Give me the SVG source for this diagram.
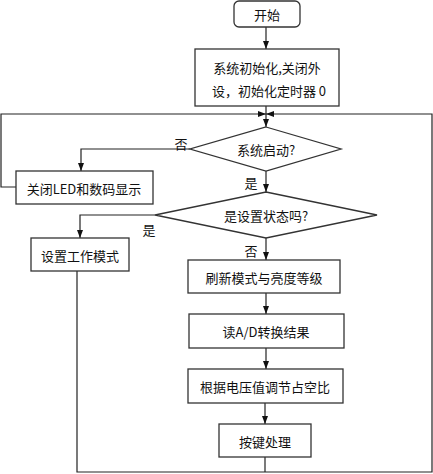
<svg xmlns="http://www.w3.org/2000/svg" width="433" height="474" viewBox="0 0 433 474">
<style>
.box{fill:#fff;stroke:#333;stroke-width:1.3}
.ln{fill:none;stroke:#222;stroke-width:1.2}
.t{font-family:"Noto Sans CJK SC","Noto Sans",sans-serif;font-size:13px;fill:#111;text-anchor:middle;dominant-baseline:central}
</style>
<defs>
<marker id="ah" viewBox="0 0 8 6" refX="8" refY="3" markerWidth="8" markerHeight="6" markerUnits="userSpaceOnUse" orient="auto">
<path d="M0,0 L8,3 L0,6 Z" fill="#111"/>
</marker>
</defs>
<rect width="433" height="474" fill="#fff"/>
<g id="connectors">
<line class="ln" x1="266" y1="27" x2="266" y2="49" marker-end="url(#ah)"/>
<line class="ln" x1="266" y1="106" x2="266" y2="127" marker-end="url(#ah)"/>
<polyline class="ln" points="16,187 1,187 1,114 266,114" marker-end="url(#ah)"/>
<polyline class="ln" points="266,472 432,472 432,114 266,114" marker-end="url(#ah)"/>
<polyline class="ln" points="190,149 81,149 81,171" marker-end="url(#ah)"/>
<line class="ln" x1="266" y1="171" x2="266" y2="192" marker-end="url(#ah)"/>
<polyline class="ln" points="155,215 80,215 80,238" marker-end="url(#ah)"/>
<line class="ln" x1="266" y1="238" x2="266" y2="260" marker-end="url(#ah)"/>
<polyline class="ln" points="77,271 77,472 266,472"/>
<line class="ln" x1="266" y1="293" x2="266" y2="314" marker-end="url(#ah)"/>
<line class="ln" x1="266" y1="348" x2="266" y2="369" marker-end="url(#ah)"/>
<line class="ln" x1="265" y1="403" x2="265" y2="424" marker-end="url(#ah)"/>
<line class="ln" x1="265" y1="457" x2="265" y2="472"/>
<text class="t" x="181" y="143">否</text>
<text class="t" x="251" y="182">是</text>
<text class="t" x="149" y="229">是</text>
<text class="t" x="251" y="250">否</text>
</g>
<g id="start"><rect class="box" x="234" y="1" width="66" height="26" rx="5"/><text class="t" x="267" y="14">开始</text></g>
<g id="init"><rect class="box" x="195" y="49" width="144" height="57"/><text class="t" x="267" y="67">系统初始化,关闭外</text><text class="t" x="269" y="90">设，初始化定时器 0</text></g>
<g id="d1"><polygon class="box" points="266,127 341,149 266,171 190,149"/><text class="t" x="266" y="149">系统启动?</text></g>
<g id="led"><rect class="box" x="16" y="171" width="137" height="33"/><text class="t" x="84" y="188">关闭LED和数码显示</text></g>
<g id="d2"><polygon class="box" points="266,192 377,215 266,238 155,215"/><text class="t" x="266" y="215">是设置状态吗?</text></g>
<g id="mode"><rect class="box" x="31" y="238" width="98" height="33"/><text class="t" x="80" y="255">设置工作模式</text></g>
<g id="refresh"><rect class="box" x="188" y="260" width="152" height="33"/><text class="t" x="264" y="277">刷新模式与亮度等级</text></g>
<g id="adc"><rect class="box" x="189" y="314" width="155" height="34"/><text class="t" x="266" y="331">读A/D转换结果</text></g>
<g id="pwm"><rect class="box" x="188" y="369" width="155" height="34"/><text class="t" x="265" y="386">根据电压值调节占空比</text></g>
<g id="key"><rect class="box" x="219" y="424" width="92" height="33"/><text class="t" x="265" y="441">按键处理</text></g>
</svg>
